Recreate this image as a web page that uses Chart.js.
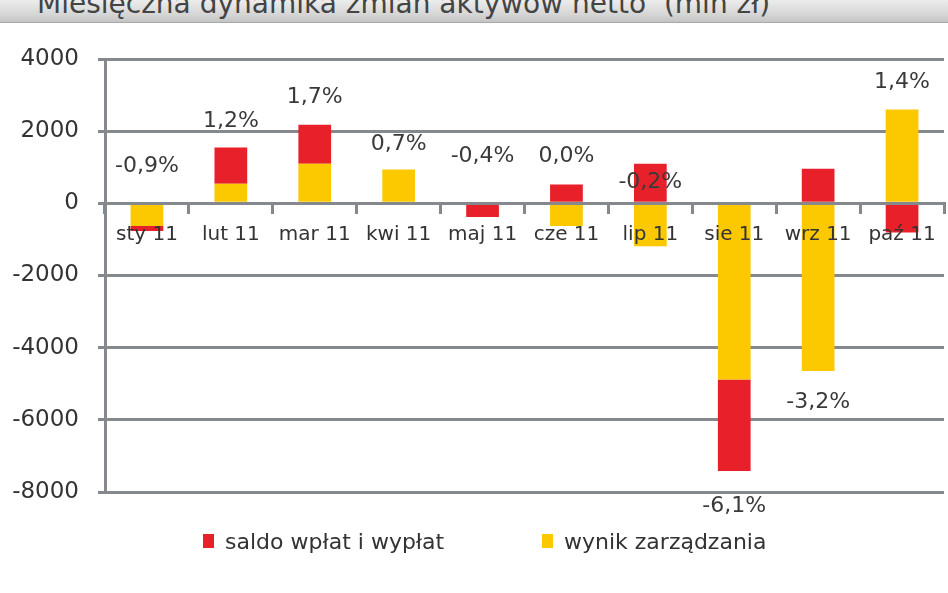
<!DOCTYPE html>
<html>
<head>
<meta charset="utf-8">
<script src="https://cdn.jsdelivr.net/npm/chart.js@4.4.1/dist/chart.umd.min.js"></script>
<style>
  body { margin: 0; background: #fff; }
  #wrap { position: relative; width: 948px; height: 593px; overflow: hidden; font-family: "DejaVu Sans", sans-serif; }
  #chart { position: absolute; left: 0; top: 0; }
  #title { position: absolute; left: 0; top: 0; width: 948px; height: 22px; overflow: hidden;
    background: linear-gradient(#ececec, #d6d6d6 65%, #c4c4c4); border-bottom: 1px solid #a9a9a9; }
  #title span { position: absolute; left: 37px; top: -10px; font-size: 28px; line-height: 28px; color: #444; white-space: pre; }
  .lg { position: absolute; top: 529px; height: 24px; display: flex; align-items: center; font-size: 22px; color: #333; white-space: pre; }
  .lg i { display: inline-block; width: 11px; height: 14px; margin-right: 11px; }
</style>
</head>
<body>
<div id="wrap">
  <canvas id="chart" width="948" height="593"></canvas>
  <div id="title"><span>Miesięczna dynamika zmian aktywów netto  (mln zł)</span></div>
  <div id="legend"></div>
</div>
<script>
const months = ["sty 11", "lut 11", "mar 11", "kwi 11", "maj 11", "cze 11", "lip 11", "sie 11", "wrz 11", "paź 11"];
const saldo = [-140, 1000, 1080, 0, -380, 525, 1100, -2540, 960, -810];
const wynik = [-630, 545, 1100, 940, 0, -630, -1190, -4880, -4645, 2600];
const pctText = ["-0,9%", "1,2%", "1,7%", "0,7%", "-0,4%", "0,0%", "-0,2%", "-6,1%", "-3,2%", "1,4%"];
const pctAt = [1020, 2280, 2950, 1630, 1310, 1310, 580, -8390, -5510, 3360];
const yTicks = [4000, 2000, 0, -2000, -4000, -6000, -8000];

const RED = "#e8202a";
const YELLOW = "#fcc800";
const GRID = "#85898d";
const FONT = "DejaVu Sans";

const pctLabels = {
  id: "pctLabels",
  afterDraw(chart) {
    const { ctx, scales: { x, y } } = chart;
    ctx.save();
    ctx.font = "22px '" + FONT + "'";
    ctx.fillStyle = "#3a3a3a";
    ctx.textAlign = "center";
    ctx.textBaseline = "middle";
    pctText.forEach((t, i) => ctx.fillText(t, x.getPixelForValue(i), y.getPixelForValue(pctAt[i])));
    ctx.restore();
  }
};

const chart = new Chart(document.getElementById("chart"), {
  type: "bar",
  data: {
    labels: months,
    datasets: [
      { label: "wynik zarządzania", data: wynik, backgroundColor: YELLOW },
      { label: "saldo wpłat i wypłat", data: saldo, backgroundColor: RED }
    ]
  },
  options: {
    responsive: false,
    animation: false,
    layout: { padding: { left: 0, right: 4, top: 59, bottom: 101 } },
    datasets: { bar: { categoryPercentage: 1, barPercentage: 0.39 } },
    plugins: { legend: { display: false }, tooltip: { enabled: false } },
    scales: {
      x: {
        stacked: true,
        position: { y: 0 },
        grid: { drawOnChartArea: false, drawTicks: true, tickLength: 9, color: GRID, lineWidth: 3, z: 1 },
        border: { color: GRID, width: 3, z: 1 },
        ticks: { color: "#333", font: { family: FONT, size: 20 }, padding: 10, maxRotation: 0, autoSkip: false, z: 1 }
      },
      y: {
        stacked: true,
        min: yTicks[yTicks.length - 1],
        max: yTicks[0],
        afterFit: s => { s.width = 105; },
        afterBuildTicks: s => { s.ticks = yTicks.map(v => ({ value: v })); },
        grid: { color: GRID, lineWidth: 3, tickLength: 7 },
        border: { color: GRID, width: 3 },
        ticks: { color: "#333", font: { family: FONT, size: 23 }, padding: 19, callback: v => String(v) }
      }
    }
  },
  plugins: [pctLabels]
});

// legend: saldo first, as in the original
const legendBox = document.getElementById("legend");
const legendLeft = [203, 542];
[chart.data.datasets[1], chart.data.datasets[0]].forEach((ds, i) => {
  const item = document.createElement("div");
  item.className = "lg";
  item.style.left = legendLeft[i] + "px";
  item.innerHTML = `<i style="background:${ds.backgroundColor}"></i>${ds.label}`;
  legendBox.appendChild(item);
});
</script>
</body>
</html>
